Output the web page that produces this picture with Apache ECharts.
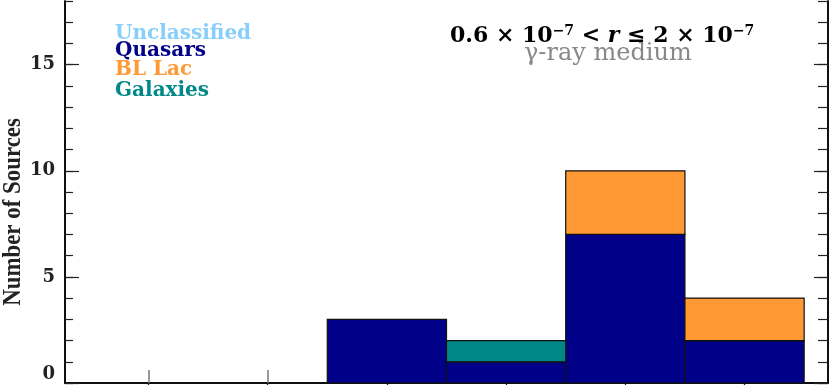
<!DOCTYPE html>
<html><head><meta charset="utf-8">
<script src="https://cdn.jsdelivr.net/npm/echarts@6/dist/echarts.min.js"></script>
<style>html,body{margin:0;padding:0;background:#fff}#c{width:830px;height:385px}</style>
</head><body><div id="c"></div>
<script>
const bins = [1, 2, 3, 4, 5, 6];
const seriesNames = ['Unclassified', 'Quasars', 'BL Lac', 'Galaxies'];
const unclassified = [0, 0, 0, 0, 0, 0];
const quasars = [0, 0, 3, 1, 7, 2];
const blLac = [0, 0, 0, 0, 3, 2];
const galaxies = [0, 0, 0, 1, 0, 0];
const yMajorTicks = [0, 5, 10, 15];
const yMinorTicks = [0,1,2,3,4,5,6,7,8,9,10,11,12,13,14,15,16,17,18];
const colors = ['#87CEFA', '#000088', '#FF9933', '#008888'];

const chart = echarts.init(document.getElementById('c'), null, {renderer: 'canvas'});
const valuesBySeries = [unclassified, quasars, blLac, galaxies];
const stackOrder = [1, 2, 3, 0];
const baseBy = {};
const cum = bins.map(() => 0);
stackOrder.forEach(si => {
  baseBy[si] = cum.slice();
  valuesBySeries[si].forEach((v, i) => { cum[i] += v; });
});

function makeSeries(si) {
  const data = bins.map((b, i) => [b, baseBy[si][i], baseBy[si][i] + valuesBySeries[si][i]]);
  return {
    type: 'custom', name: seriesNames[si], xAxisIndex: 0, yAxisIndex: 0, z: 10,
    data: data,
    encode: {x: 0, y: [1, 2]},
    renderItem: function (params, api) {
      const x = api.value(0), y0 = api.value(1), y1 = api.value(2);
      if (y1 - y0 <= 0) return null;
      const p0 = api.coord([x - 0.5, y0]);
      const p1 = api.coord([x + 0.5, y1]);
      return {
        type: 'rect',
        shape: {x: p0[0], y: p1[1], width: p1[0] - p0[0], height: p0[1] - p1[1]},
        style: {fill: colors[si], stroke: '#111', lineWidth: 1.2}
      };
    }
  };
}

const axisLine = {show: true, lineStyle: {color: '#000', width: 1.5}};
const xBase = {type: 'value', min: 0.3, max: 6.7, splitLine: {show: false}, z: 0,
  axisLine: axisLine, axisLabel: {show: false}};
const yBase = {type: 'value', min: 0, max: 18, splitLine: {show: false}, z: 0, axisLine: axisLine};

chart.setOption({
  animation: false,
  grid: {left: 65, top: 1, right: 2, bottom: 2, containLabel: false, outerBoundsMode: 'none'},
  xAxis: [
    Object.assign({}, xBase, {position: 'bottom',
      axisTick: {show: true, inside: true, length: 13, customValues: bins, lineStyle: {color: '#777', width: 1.5}}}),
    Object.assign({}, xBase, {position: 'top',
      axisTick: {show: true, inside: true, length: 13, customValues: bins, lineStyle: {color: '#222', width: 1.3}}})
  ],
  yAxis: [
    Object.assign({}, yBase, {position: 'left',
      axisTick: {show: true, inside: true, length: 14, customValues: yMajorTicks, lineStyle: {color: '#222', width: 1.2}},
      axisLabel: {show: true, customValues: yMajorTicks, margin: 10, verticalAlignMinLabel: 'bottom',
        fontFamily: 'DejaVu Serif', fontWeight: 'bold', fontSize: 18, color: '#222'}}),
    Object.assign({}, yBase, {position: 'left', offset: 0,
      axisTick: {show: true, inside: true, length: 8, customValues: yMinorTicks, lineStyle: {color: '#222', width: 1.2}},
      axisLabel: {show: false}}),
    Object.assign({}, yBase, {position: 'right',
      axisTick: {show: true, inside: true, length: 14, customValues: yMajorTicks, lineStyle: {color: '#222', width: 1.2}},
      axisLabel: {show: false}}),
    Object.assign({}, yBase, {position: 'right', offset: 0,
      axisTick: {show: true, inside: true, length: 10, customValues: yMinorTicks, lineStyle: {color: '#222', width: 1.2}},
      axisLabel: {show: false}})
  ],
  graphic: [
    {type: 'text', x: 13, y: 212, rotation: Math.PI / 2, scaleX: 0.88,
      style: {text: 'Number of Sources', fill: '#222', font: 'bold 26px "Liberation Serif"', align: 'center', verticalAlign: 'middle'}},
    {type: 'text', left: 115, top: 24, style: {text: seriesNames[0], fill: colors[0], font: 'bold 20px "DejaVu Serif"'}},
    {type: 'text', left: 115, top: 41, style: {text: seriesNames[1], fill: colors[1], font: 'bold 20px "DejaVu Serif"'}},
    {type: 'text', left: 115, top: 60, style: {text: seriesNames[2], fill: colors[2], font: 'bold 20px "DejaVu Serif"'}},
    {type: 'text', left: 115, top: 81, style: {text: seriesNames[3], fill: colors[3], font: 'bold 20px "DejaVu Serif"'}},
    {type: 'text', left: 450, top: 24, style: {
      text: '{a|0.6 × 10}{s|−7}{a| < }{i|r}{a| ≤ 2 × 10}{s|−7}',
      rich: {
        a: {fontFamily: 'DejaVu Serif', fontWeight: 'bold', fontSize: 22, color: '#222'},
        i: {fontFamily: 'DejaVu Serif', fontWeight: 'bold', fontStyle: 'italic', fontSize: 22, color: '#222'},
        s: {fontFamily: 'DejaVu Serif', fontWeight: 'bold', fontSize: 14, color: '#222', verticalAlign: 'top', padding: [0, 0, 10, 0]}
      }}},
    {type: 'text', left: 524, top: 42, z: -1, style: {text: 'γ-ray medium', fill: '#888', font: '24px "DejaVu Serif"'}}
  ],
  series: stackOrder.map(makeSeries)
});
</script></body></html>
